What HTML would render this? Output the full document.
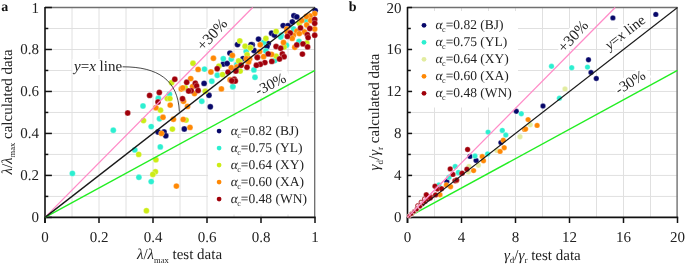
<!DOCTYPE html><html><head><meta charset="utf-8"><style>
html,body{margin:0;padding:0;background:#fff;}
body{width:685px;height:264px;overflow:hidden;}
svg{display:block;font-family:"Liberation Serif", serif;text-rendering:geometricPrecision;will-change:transform;}
</style></head><body>
<svg width="685" height="264" viewBox="0 0 685 264">
<line x1="72.00" y1="7.50" x2="72.00" y2="217.40" stroke="#e0e0e0" stroke-width="1.0"/>
<line x1="99.00" y1="7.50" x2="99.00" y2="217.40" stroke="#e0e0e0" stroke-width="1.0"/>
<line x1="126.00" y1="7.50" x2="126.00" y2="217.40" stroke="#e0e0e0" stroke-width="1.0"/>
<line x1="153.00" y1="7.50" x2="153.00" y2="217.40" stroke="#e0e0e0" stroke-width="1.0"/>
<line x1="180.00" y1="7.50" x2="180.00" y2="217.40" stroke="#e0e0e0" stroke-width="1.0"/>
<line x1="207.00" y1="7.50" x2="207.00" y2="217.40" stroke="#e0e0e0" stroke-width="1.0"/>
<line x1="234.00" y1="7.50" x2="234.00" y2="217.40" stroke="#e0e0e0" stroke-width="1.0"/>
<line x1="261.00" y1="7.50" x2="261.00" y2="217.40" stroke="#e0e0e0" stroke-width="1.0"/>
<line x1="288.00" y1="7.50" x2="288.00" y2="217.40" stroke="#e0e0e0" stroke-width="1.0"/>
<line x1="45.00" y1="196.41" x2="315.00" y2="196.41" stroke="#e0e0e0" stroke-width="1.0"/>
<line x1="45.00" y1="175.42" x2="315.00" y2="175.42" stroke="#e0e0e0" stroke-width="1.0"/>
<line x1="45.00" y1="154.43" x2="315.00" y2="154.43" stroke="#e0e0e0" stroke-width="1.0"/>
<line x1="45.00" y1="133.44" x2="315.00" y2="133.44" stroke="#e0e0e0" stroke-width="1.0"/>
<line x1="45.00" y1="112.45" x2="315.00" y2="112.45" stroke="#e0e0e0" stroke-width="1.0"/>
<line x1="45.00" y1="91.46" x2="315.00" y2="91.46" stroke="#e0e0e0" stroke-width="1.0"/>
<line x1="45.00" y1="70.47" x2="315.00" y2="70.47" stroke="#e0e0e0" stroke-width="1.0"/>
<line x1="45.00" y1="49.48" x2="315.00" y2="49.48" stroke="#e0e0e0" stroke-width="1.0"/>
<line x1="45.00" y1="28.49" x2="315.00" y2="28.49" stroke="#e0e0e0" stroke-width="1.0"/>
<rect x="208" y="116.5" width="106" height="98" fill="#fff"/>
<line x1="45.00" y1="7.50" x2="315.00" y2="7.50" stroke="#707070" stroke-width="1.3"/>
<line x1="314.70" y1="7.50" x2="314.70" y2="217.40" stroke="#6a6a6a" stroke-width="1.3"/>
<line x1="45.00" y1="6.90" x2="45.00" y2="223.00" stroke="#111" stroke-width="1.6"/>
<line x1="44.20" y1="217.40" x2="315.70" y2="217.40" stroke="#111" stroke-width="1.7"/>
<line x1="45.00" y1="217.40" x2="45.00" y2="223.00" stroke="#111" stroke-width="1.5"/>
<text x="45.00" y="242.3" font-size="15" text-anchor="middle" fill="#222">0</text>
<line x1="99.00" y1="217.40" x2="99.00" y2="223.00" stroke="#111" stroke-width="1.5"/>
<text x="99.00" y="242.3" font-size="15" text-anchor="middle" fill="#222">0.2</text>
<line x1="153.00" y1="217.40" x2="153.00" y2="223.00" stroke="#111" stroke-width="1.5"/>
<text x="153.00" y="242.3" font-size="15" text-anchor="middle" fill="#222">0.4</text>
<line x1="207.00" y1="217.40" x2="207.00" y2="223.00" stroke="#111" stroke-width="1.5"/>
<text x="207.00" y="242.3" font-size="15" text-anchor="middle" fill="#222">0.6</text>
<line x1="261.00" y1="217.40" x2="261.00" y2="223.00" stroke="#111" stroke-width="1.5"/>
<text x="261.00" y="242.3" font-size="15" text-anchor="middle" fill="#222">0.8</text>
<line x1="315.00" y1="217.40" x2="315.00" y2="223.00" stroke="#111" stroke-width="1.5"/>
<text x="315.00" y="242.3" font-size="15" text-anchor="middle" fill="#222">1</text>
<line x1="45.00" y1="217.40" x2="51.90" y2="217.40" stroke="#111" stroke-width="1.5"/>
<text x="39.00" y="222.40" font-size="15" text-anchor="end" fill="#222">0</text>
<line x1="45.00" y1="175.42" x2="51.90" y2="175.42" stroke="#111" stroke-width="1.5"/>
<text x="39.00" y="180.42" font-size="15" text-anchor="end" fill="#222">0.2</text>
<line x1="45.00" y1="133.44" x2="51.90" y2="133.44" stroke="#111" stroke-width="1.5"/>
<text x="39.00" y="138.44" font-size="15" text-anchor="end" fill="#222">0.4</text>
<line x1="45.00" y1="91.46" x2="51.90" y2="91.46" stroke="#111" stroke-width="1.5"/>
<text x="39.00" y="96.46" font-size="15" text-anchor="end" fill="#222">0.6</text>
<line x1="45.00" y1="49.48" x2="51.90" y2="49.48" stroke="#111" stroke-width="1.5"/>
<text x="39.00" y="54.48" font-size="15" text-anchor="end" fill="#222">0.8</text>
<line x1="45.00" y1="7.50" x2="51.90" y2="7.50" stroke="#111" stroke-width="1.5"/>
<text x="39.00" y="12.50" font-size="15" text-anchor="end" fill="#222">1</text>
<line x1="45.00" y1="196.41" x2="48.30" y2="196.41" stroke="#111" stroke-width="1.5"/>
<line x1="45.00" y1="154.43" x2="48.30" y2="154.43" stroke="#111" stroke-width="1.5"/>
<line x1="45.00" y1="112.45" x2="48.30" y2="112.45" stroke="#111" stroke-width="1.5"/>
<line x1="45.00" y1="70.47" x2="48.30" y2="70.47" stroke="#111" stroke-width="1.5"/>
<line x1="45.00" y1="28.49" x2="48.30" y2="28.49" stroke="#111" stroke-width="1.5"/>
<circle cx="293.9" cy="15.8" r="2.95" fill="#08086a" stroke="#fff" stroke-width="0.4" stroke-opacity="0.7"/>
<circle cx="296.8" cy="16.9" r="2.95" fill="#08086a" stroke="#fff" stroke-width="0.4" stroke-opacity="0.7"/>
<circle cx="315.2" cy="10.6" r="2.95" fill="#08086a" stroke="#fff" stroke-width="0.4" stroke-opacity="0.7"/>
<circle cx="292.3" cy="21.9" r="2.95" fill="#08086a" stroke="#fff" stroke-width="0.4" stroke-opacity="0.7"/>
<circle cx="283.2" cy="25.6" r="2.95" fill="#08086a" stroke="#fff" stroke-width="0.4" stroke-opacity="0.7"/>
<circle cx="288.0" cy="25.6" r="2.95" fill="#08086a" stroke="#fff" stroke-width="0.4" stroke-opacity="0.7"/>
<circle cx="271.6" cy="33.2" r="2.95" fill="#08086a" stroke="#fff" stroke-width="0.4" stroke-opacity="0.7"/>
<circle cx="274.4" cy="35.1" r="2.95" fill="#08086a" stroke="#fff" stroke-width="0.4" stroke-opacity="0.7"/>
<circle cx="258.5" cy="39.1" r="2.95" fill="#08086a" stroke="#fff" stroke-width="0.4" stroke-opacity="0.7"/>
<circle cx="268.2" cy="43.6" r="2.95" fill="#08086a" stroke="#fff" stroke-width="0.4" stroke-opacity="0.7"/>
<circle cx="267.0" cy="46.5" r="2.95" fill="#08086a" stroke="#fff" stroke-width="0.4" stroke-opacity="0.7"/>
<circle cx="252.3" cy="44.8" r="2.95" fill="#08086a" stroke="#fff" stroke-width="0.4" stroke-opacity="0.7"/>
<circle cx="254.0" cy="50.5" r="2.95" fill="#08086a" stroke="#fff" stroke-width="0.4" stroke-opacity="0.7"/>
<circle cx="237.5" cy="44.6" r="2.95" fill="#08086a" stroke="#fff" stroke-width="0.4" stroke-opacity="0.7"/>
<circle cx="251.1" cy="44.6" r="2.95" fill="#08086a" stroke="#fff" stroke-width="0.4" stroke-opacity="0.7"/>
<circle cx="229.9" cy="53.1" r="2.95" fill="#08086a" stroke="#fff" stroke-width="0.4" stroke-opacity="0.7"/>
<circle cx="243.0" cy="58.6" r="2.95" fill="#08086a" stroke="#fff" stroke-width="0.4" stroke-opacity="0.7"/>
<circle cx="223.4" cy="64.0" r="2.95" fill="#08086a" stroke="#fff" stroke-width="0.4" stroke-opacity="0.7"/>
<circle cx="227.1" cy="63.5" r="2.95" fill="#08086a" stroke="#fff" stroke-width="0.4" stroke-opacity="0.7"/>
<circle cx="204.1" cy="83.4" r="2.95" fill="#08086a" stroke="#fff" stroke-width="0.4" stroke-opacity="0.7"/>
<circle cx="209.0" cy="95.3" r="2.95" fill="#08086a" stroke="#fff" stroke-width="0.4" stroke-opacity="0.7"/>
<circle cx="210.3" cy="106.8" r="2.95" fill="#08086a" stroke="#fff" stroke-width="0.4" stroke-opacity="0.7"/>
<circle cx="184.3" cy="129.0" r="2.95" fill="#08086a" stroke="#fff" stroke-width="0.4" stroke-opacity="0.7"/>
<circle cx="158.1" cy="132.0" r="2.95" fill="#08086a" stroke="#fff" stroke-width="0.4" stroke-opacity="0.7"/>
<circle cx="164.1" cy="132.0" r="2.95" fill="#08086a" stroke="#fff" stroke-width="0.4" stroke-opacity="0.7"/>
<circle cx="165.8" cy="135.8" r="2.95" fill="#08086a" stroke="#fff" stroke-width="0.4" stroke-opacity="0.7"/>
<circle cx="305.9" cy="20.5" r="2.95" fill="#2cefd0" stroke="#fff" stroke-width="0.4" stroke-opacity="0.7"/>
<circle cx="293.6" cy="29.0" r="2.95" fill="#2cefd0" stroke="#fff" stroke-width="0.4" stroke-opacity="0.7"/>
<circle cx="281.1" cy="35.3" r="2.95" fill="#2cefd0" stroke="#fff" stroke-width="0.4" stroke-opacity="0.7"/>
<circle cx="280.7" cy="37.0" r="2.95" fill="#2cefd0" stroke="#fff" stroke-width="0.4" stroke-opacity="0.7"/>
<circle cx="263.6" cy="42.5" r="2.95" fill="#2cefd0" stroke="#fff" stroke-width="0.4" stroke-opacity="0.7"/>
<circle cx="265.9" cy="51.0" r="2.95" fill="#2cefd0" stroke="#fff" stroke-width="0.4" stroke-opacity="0.7"/>
<circle cx="286.4" cy="45.3" r="2.95" fill="#2cefd0" stroke="#fff" stroke-width="0.4" stroke-opacity="0.7"/>
<circle cx="299.0" cy="41.5" r="2.95" fill="#2cefd0" stroke="#fff" stroke-width="0.4" stroke-opacity="0.7"/>
<circle cx="253.9" cy="69.9" r="2.95" fill="#2cefd0" stroke="#fff" stroke-width="0.4" stroke-opacity="0.7"/>
<circle cx="255.0" cy="77.3" r="2.95" fill="#2cefd0" stroke="#fff" stroke-width="0.4" stroke-opacity="0.7"/>
<circle cx="232.7" cy="86.8" r="2.95" fill="#2cefd0" stroke="#fff" stroke-width="0.4" stroke-opacity="0.7"/>
<circle cx="274.7" cy="60.6" r="2.95" fill="#2cefd0" stroke="#fff" stroke-width="0.4" stroke-opacity="0.7"/>
<circle cx="246.2" cy="51.5" r="2.95" fill="#2cefd0" stroke="#fff" stroke-width="0.4" stroke-opacity="0.7"/>
<circle cx="223.3" cy="58.7" r="2.95" fill="#2cefd0" stroke="#fff" stroke-width="0.4" stroke-opacity="0.7"/>
<circle cx="231.2" cy="59.0" r="2.95" fill="#2cefd0" stroke="#fff" stroke-width="0.4" stroke-opacity="0.7"/>
<circle cx="204.5" cy="69.1" r="2.95" fill="#2cefd0" stroke="#fff" stroke-width="0.4" stroke-opacity="0.7"/>
<circle cx="217.3" cy="75.3" r="2.95" fill="#2cefd0" stroke="#fff" stroke-width="0.4" stroke-opacity="0.7"/>
<circle cx="236.8" cy="64.7" r="2.95" fill="#2cefd0" stroke="#fff" stroke-width="0.4" stroke-opacity="0.7"/>
<circle cx="211.8" cy="81.2" r="2.95" fill="#2cefd0" stroke="#fff" stroke-width="0.4" stroke-opacity="0.7"/>
<circle cx="232.9" cy="86.6" r="2.95" fill="#2cefd0" stroke="#fff" stroke-width="0.4" stroke-opacity="0.7"/>
<circle cx="169.4" cy="94.3" r="2.95" fill="#2cefd0" stroke="#fff" stroke-width="0.4" stroke-opacity="0.7"/>
<circle cx="201.8" cy="101.3" r="2.95" fill="#2cefd0" stroke="#fff" stroke-width="0.4" stroke-opacity="0.7"/>
<circle cx="143.0" cy="106.0" r="2.95" fill="#2cefd0" stroke="#fff" stroke-width="0.4" stroke-opacity="0.7"/>
<circle cx="151.2" cy="126.6" r="2.95" fill="#2cefd0" stroke="#fff" stroke-width="0.4" stroke-opacity="0.7"/>
<circle cx="113.3" cy="130.2" r="2.95" fill="#2cefd0" stroke="#fff" stroke-width="0.4" stroke-opacity="0.7"/>
<circle cx="158.3" cy="98.3" r="2.95" fill="#2cefd0" stroke="#fff" stroke-width="0.4" stroke-opacity="0.7"/>
<circle cx="159.5" cy="118.7" r="2.95" fill="#2cefd0" stroke="#fff" stroke-width="0.4" stroke-opacity="0.7"/>
<circle cx="160.3" cy="146.9" r="2.95" fill="#2cefd0" stroke="#fff" stroke-width="0.4" stroke-opacity="0.7"/>
<circle cx="134.8" cy="149.9" r="2.95" fill="#2cefd0" stroke="#fff" stroke-width="0.4" stroke-opacity="0.7"/>
<circle cx="138.9" cy="177.3" r="2.95" fill="#2cefd0" stroke="#fff" stroke-width="0.4" stroke-opacity="0.7"/>
<circle cx="151.2" cy="181.6" r="2.95" fill="#2cefd0" stroke="#fff" stroke-width="0.4" stroke-opacity="0.7"/>
<circle cx="72.4" cy="173.4" r="2.95" fill="#2cefd0" stroke="#fff" stroke-width="0.4" stroke-opacity="0.7"/>
<circle cx="299.3" cy="23.3" r="2.95" fill="#ccec16" stroke="#fff" stroke-width="0.4" stroke-opacity="0.7"/>
<circle cx="276.1" cy="31.4" r="2.95" fill="#ccec16" stroke="#fff" stroke-width="0.4" stroke-opacity="0.7"/>
<circle cx="265.9" cy="38.5" r="2.95" fill="#ccec16" stroke="#fff" stroke-width="0.4" stroke-opacity="0.7"/>
<circle cx="250.6" cy="47.6" r="2.95" fill="#ccec16" stroke="#fff" stroke-width="0.4" stroke-opacity="0.7"/>
<circle cx="284.1" cy="47.0" r="2.95" fill="#ccec16" stroke="#fff" stroke-width="0.4" stroke-opacity="0.7"/>
<circle cx="276.1" cy="56.1" r="2.95" fill="#ccec16" stroke="#fff" stroke-width="0.4" stroke-opacity="0.7"/>
<circle cx="239.9" cy="61.4" r="2.95" fill="#ccec16" stroke="#fff" stroke-width="0.4" stroke-opacity="0.7"/>
<circle cx="240.2" cy="71.1" r="2.95" fill="#ccec16" stroke="#fff" stroke-width="0.4" stroke-opacity="0.7"/>
<circle cx="239.8" cy="40.9" r="2.95" fill="#ccec16" stroke="#fff" stroke-width="0.4" stroke-opacity="0.7"/>
<circle cx="245.1" cy="46.2" r="2.95" fill="#ccec16" stroke="#fff" stroke-width="0.4" stroke-opacity="0.7"/>
<circle cx="250.1" cy="47.8" r="2.95" fill="#ccec16" stroke="#fff" stroke-width="0.4" stroke-opacity="0.7"/>
<circle cx="247.1" cy="54.8" r="2.95" fill="#ccec16" stroke="#fff" stroke-width="0.4" stroke-opacity="0.7"/>
<circle cx="218.9" cy="66.1" r="2.95" fill="#ccec16" stroke="#fff" stroke-width="0.4" stroke-opacity="0.7"/>
<circle cx="222.5" cy="74.6" r="2.95" fill="#ccec16" stroke="#fff" stroke-width="0.4" stroke-opacity="0.7"/>
<circle cx="238.6" cy="61.0" r="2.95" fill="#ccec16" stroke="#fff" stroke-width="0.4" stroke-opacity="0.7"/>
<circle cx="171.6" cy="82.8" r="2.95" fill="#ccec16" stroke="#fff" stroke-width="0.4" stroke-opacity="0.7"/>
<circle cx="185.2" cy="87.7" r="2.95" fill="#ccec16" stroke="#fff" stroke-width="0.4" stroke-opacity="0.7"/>
<circle cx="205.3" cy="91.3" r="2.95" fill="#ccec16" stroke="#fff" stroke-width="0.4" stroke-opacity="0.7"/>
<circle cx="143.5" cy="120.6" r="2.95" fill="#ccec16" stroke="#fff" stroke-width="0.4" stroke-opacity="0.7"/>
<circle cx="160.5" cy="110.2" r="2.95" fill="#ccec16" stroke="#fff" stroke-width="0.4" stroke-opacity="0.7"/>
<circle cx="167.3" cy="98.6" r="2.95" fill="#ccec16" stroke="#fff" stroke-width="0.4" stroke-opacity="0.7"/>
<circle cx="169.9" cy="98.6" r="2.95" fill="#ccec16" stroke="#fff" stroke-width="0.4" stroke-opacity="0.7"/>
<circle cx="172.4" cy="129.1" r="2.95" fill="#ccec16" stroke="#fff" stroke-width="0.4" stroke-opacity="0.7"/>
<circle cx="186.1" cy="120.1" r="2.95" fill="#ccec16" stroke="#fff" stroke-width="0.4" stroke-opacity="0.7"/>
<circle cx="138.7" cy="154.4" r="2.95" fill="#ccec16" stroke="#fff" stroke-width="0.4" stroke-opacity="0.7"/>
<circle cx="155.9" cy="159.8" r="2.95" fill="#ccec16" stroke="#fff" stroke-width="0.4" stroke-opacity="0.7"/>
<circle cx="155.4" cy="171.8" r="2.95" fill="#ccec16" stroke="#fff" stroke-width="0.4" stroke-opacity="0.7"/>
<circle cx="152.8" cy="174.4" r="2.95" fill="#ccec16" stroke="#fff" stroke-width="0.4" stroke-opacity="0.7"/>
<circle cx="146.4" cy="210.7" r="2.95" fill="#ccec16" stroke="#fff" stroke-width="0.4" stroke-opacity="0.7"/>
<circle cx="193.0" cy="63.3" r="2.95" fill="#ccec16" stroke="#fff" stroke-width="0.4" stroke-opacity="0.7"/>
<circle cx="306.8" cy="43.0" r="2.95" fill="#ccec16" stroke="#fff" stroke-width="0.4" stroke-opacity="0.7"/>
<circle cx="314.7" cy="13.6" r="2.95" fill="#ff8804" stroke="#fff" stroke-width="0.4" stroke-opacity="0.7"/>
<circle cx="310.1" cy="16.0" r="2.95" fill="#ff8804" stroke="#fff" stroke-width="0.4" stroke-opacity="0.7"/>
<circle cx="306.4" cy="16.5" r="2.95" fill="#ff8804" stroke="#fff" stroke-width="0.4" stroke-opacity="0.7"/>
<circle cx="301.6" cy="20.5" r="2.95" fill="#ff8804" stroke="#fff" stroke-width="0.4" stroke-opacity="0.7"/>
<circle cx="310.7" cy="20.5" r="2.95" fill="#ff8804" stroke="#fff" stroke-width="0.4" stroke-opacity="0.7"/>
<circle cx="306.7" cy="25.0" r="2.95" fill="#ff8804" stroke="#fff" stroke-width="0.4" stroke-opacity="0.7"/>
<circle cx="314.7" cy="29.0" r="2.95" fill="#ff8804" stroke="#fff" stroke-width="0.4" stroke-opacity="0.7"/>
<circle cx="286.8" cy="29.0" r="2.95" fill="#ff8804" stroke="#fff" stroke-width="0.4" stroke-opacity="0.7"/>
<circle cx="296.8" cy="31.3" r="2.95" fill="#ff8804" stroke="#fff" stroke-width="0.4" stroke-opacity="0.7"/>
<circle cx="304.4" cy="31.9" r="2.95" fill="#ff8804" stroke="#fff" stroke-width="0.4" stroke-opacity="0.7"/>
<circle cx="299.3" cy="33.6" r="2.95" fill="#ff8804" stroke="#fff" stroke-width="0.4" stroke-opacity="0.7"/>
<circle cx="293.4" cy="35.3" r="2.95" fill="#ff8804" stroke="#fff" stroke-width="0.4" stroke-opacity="0.7"/>
<circle cx="287.3" cy="32.3" r="2.95" fill="#ff8804" stroke="#fff" stroke-width="0.4" stroke-opacity="0.7"/>
<circle cx="260.2" cy="44.8" r="2.95" fill="#ff8804" stroke="#fff" stroke-width="0.4" stroke-opacity="0.7"/>
<circle cx="259.7" cy="51.6" r="2.95" fill="#ff8804" stroke="#fff" stroke-width="0.4" stroke-opacity="0.7"/>
<circle cx="283.5" cy="42.5" r="2.95" fill="#ff8804" stroke="#fff" stroke-width="0.4" stroke-opacity="0.7"/>
<circle cx="271.6" cy="54.4" r="2.95" fill="#ff8804" stroke="#fff" stroke-width="0.4" stroke-opacity="0.7"/>
<circle cx="263.6" cy="56.7" r="2.95" fill="#ff8804" stroke="#fff" stroke-width="0.4" stroke-opacity="0.7"/>
<circle cx="292.2" cy="38.4" r="2.95" fill="#ff8804" stroke="#fff" stroke-width="0.4" stroke-opacity="0.7"/>
<circle cx="294.8" cy="47.3" r="2.95" fill="#ff8804" stroke="#fff" stroke-width="0.4" stroke-opacity="0.7"/>
<circle cx="249.6" cy="58.9" r="2.95" fill="#ff8804" stroke="#fff" stroke-width="0.4" stroke-opacity="0.7"/>
<circle cx="247.9" cy="61.4" r="2.95" fill="#ff8804" stroke="#fff" stroke-width="0.4" stroke-opacity="0.7"/>
<circle cx="232.4" cy="55.4" r="2.95" fill="#ff8804" stroke="#fff" stroke-width="0.4" stroke-opacity="0.7"/>
<circle cx="213.4" cy="58.2" r="2.95" fill="#ff8804" stroke="#fff" stroke-width="0.4" stroke-opacity="0.7"/>
<circle cx="246.4" cy="58.8" r="2.95" fill="#ff8804" stroke="#fff" stroke-width="0.4" stroke-opacity="0.7"/>
<circle cx="248.6" cy="62.0" r="2.95" fill="#ff8804" stroke="#fff" stroke-width="0.4" stroke-opacity="0.7"/>
<circle cx="198.1" cy="69.4" r="2.95" fill="#ff8804" stroke="#fff" stroke-width="0.4" stroke-opacity="0.7"/>
<circle cx="210.9" cy="72.0" r="2.95" fill="#ff8804" stroke="#fff" stroke-width="0.4" stroke-opacity="0.7"/>
<circle cx="231.3" cy="67.8" r="2.95" fill="#ff8804" stroke="#fff" stroke-width="0.4" stroke-opacity="0.7"/>
<circle cx="236.9" cy="67.0" r="2.95" fill="#ff8804" stroke="#fff" stroke-width="0.4" stroke-opacity="0.7"/>
<circle cx="190.7" cy="78.6" r="2.95" fill="#ff8804" stroke="#fff" stroke-width="0.4" stroke-opacity="0.7"/>
<circle cx="192.6" cy="86.6" r="2.95" fill="#ff8804" stroke="#fff" stroke-width="0.4" stroke-opacity="0.7"/>
<circle cx="181.3" cy="89.0" r="2.95" fill="#ff8804" stroke="#fff" stroke-width="0.4" stroke-opacity="0.7"/>
<circle cx="182.7" cy="87.9" r="2.95" fill="#ff8804" stroke="#fff" stroke-width="0.4" stroke-opacity="0.7"/>
<circle cx="221.4" cy="88.9" r="2.95" fill="#ff8804" stroke="#fff" stroke-width="0.4" stroke-opacity="0.7"/>
<circle cx="230.1" cy="79.8" r="2.95" fill="#ff8804" stroke="#fff" stroke-width="0.4" stroke-opacity="0.7"/>
<circle cx="194.5" cy="93.6" r="2.95" fill="#ff8804" stroke="#fff" stroke-width="0.4" stroke-opacity="0.7"/>
<circle cx="183.5" cy="101.2" r="2.95" fill="#ff8804" stroke="#fff" stroke-width="0.4" stroke-opacity="0.7"/>
<circle cx="187.5" cy="106.4" r="2.95" fill="#ff8804" stroke="#fff" stroke-width="0.4" stroke-opacity="0.7"/>
<circle cx="155.9" cy="107.7" r="2.95" fill="#ff8804" stroke="#fff" stroke-width="0.4" stroke-opacity="0.7"/>
<circle cx="163.0" cy="117.3" r="2.95" fill="#ff8804" stroke="#fff" stroke-width="0.4" stroke-opacity="0.7"/>
<circle cx="170.2" cy="105.1" r="2.95" fill="#ff8804" stroke="#fff" stroke-width="0.4" stroke-opacity="0.7"/>
<circle cx="173.4" cy="119.2" r="2.95" fill="#ff8804" stroke="#fff" stroke-width="0.4" stroke-opacity="0.7"/>
<circle cx="183.2" cy="119.4" r="2.95" fill="#ff8804" stroke="#fff" stroke-width="0.4" stroke-opacity="0.7"/>
<circle cx="190.0" cy="127.4" r="2.95" fill="#ff8804" stroke="#fff" stroke-width="0.4" stroke-opacity="0.7"/>
<circle cx="161.5" cy="133.4" r="2.95" fill="#ff8804" stroke="#fff" stroke-width="0.4" stroke-opacity="0.7"/>
<circle cx="176.4" cy="186.1" r="2.95" fill="#ff8804" stroke="#fff" stroke-width="0.4" stroke-opacity="0.7"/>
<circle cx="314.7" cy="19.4" r="2.95" fill="#a0000a" stroke="#fff" stroke-width="0.4" stroke-opacity="0.7"/>
<circle cx="314.7" cy="23.3" r="2.95" fill="#a0000a" stroke="#fff" stroke-width="0.4" stroke-opacity="0.7"/>
<circle cx="300.5" cy="27.9" r="2.95" fill="#a0000a" stroke="#fff" stroke-width="0.4" stroke-opacity="0.7"/>
<circle cx="309.8" cy="28.5" r="2.95" fill="#a0000a" stroke="#fff" stroke-width="0.4" stroke-opacity="0.7"/>
<circle cx="290.2" cy="33.0" r="2.95" fill="#a0000a" stroke="#fff" stroke-width="0.4" stroke-opacity="0.7"/>
<circle cx="307.3" cy="34.7" r="2.95" fill="#a0000a" stroke="#fff" stroke-width="0.4" stroke-opacity="0.7"/>
<circle cx="314.7" cy="35.3" r="2.95" fill="#a0000a" stroke="#fff" stroke-width="0.4" stroke-opacity="0.7"/>
<circle cx="287.4" cy="36.4" r="2.95" fill="#a0000a" stroke="#fff" stroke-width="0.4" stroke-opacity="0.7"/>
<circle cx="276.1" cy="46.5" r="2.95" fill="#a0000a" stroke="#fff" stroke-width="0.4" stroke-opacity="0.7"/>
<circle cx="280.7" cy="48.2" r="2.95" fill="#a0000a" stroke="#fff" stroke-width="0.4" stroke-opacity="0.7"/>
<circle cx="268.2" cy="53.9" r="2.95" fill="#a0000a" stroke="#fff" stroke-width="0.4" stroke-opacity="0.7"/>
<circle cx="257.4" cy="57.3" r="2.95" fill="#a0000a" stroke="#fff" stroke-width="0.4" stroke-opacity="0.7"/>
<circle cx="282.4" cy="53.9" r="2.95" fill="#a0000a" stroke="#fff" stroke-width="0.4" stroke-opacity="0.7"/>
<circle cx="284.1" cy="56.7" r="2.95" fill="#a0000a" stroke="#fff" stroke-width="0.4" stroke-opacity="0.7"/>
<circle cx="279.5" cy="59.0" r="2.95" fill="#a0000a" stroke="#fff" stroke-width="0.4" stroke-opacity="0.7"/>
<circle cx="296.8" cy="44.9" r="2.95" fill="#a0000a" stroke="#fff" stroke-width="0.4" stroke-opacity="0.7"/>
<circle cx="303.0" cy="43.9" r="2.95" fill="#a0000a" stroke="#fff" stroke-width="0.4" stroke-opacity="0.7"/>
<circle cx="307.6" cy="46.9" r="2.95" fill="#a0000a" stroke="#fff" stroke-width="0.4" stroke-opacity="0.7"/>
<circle cx="308.1" cy="37.6" r="2.95" fill="#a0000a" stroke="#fff" stroke-width="0.4" stroke-opacity="0.7"/>
<circle cx="302.4" cy="54.1" r="2.95" fill="#a0000a" stroke="#fff" stroke-width="0.4" stroke-opacity="0.7"/>
<circle cx="271.8" cy="61.4" r="2.95" fill="#a0000a" stroke="#fff" stroke-width="0.4" stroke-opacity="0.7"/>
<circle cx="264.9" cy="62.6" r="2.95" fill="#a0000a" stroke="#fff" stroke-width="0.4" stroke-opacity="0.7"/>
<circle cx="260.3" cy="64.3" r="2.95" fill="#a0000a" stroke="#fff" stroke-width="0.4" stroke-opacity="0.7"/>
<circle cx="256.4" cy="65.3" r="2.95" fill="#a0000a" stroke="#fff" stroke-width="0.4" stroke-opacity="0.7"/>
<circle cx="247.0" cy="67.2" r="2.95" fill="#a0000a" stroke="#fff" stroke-width="0.4" stroke-opacity="0.7"/>
<circle cx="241.1" cy="65.3" r="2.95" fill="#a0000a" stroke="#fff" stroke-width="0.4" stroke-opacity="0.7"/>
<circle cx="236.0" cy="70.8" r="2.95" fill="#a0000a" stroke="#fff" stroke-width="0.4" stroke-opacity="0.7"/>
<circle cx="234.3" cy="79.3" r="2.95" fill="#a0000a" stroke="#fff" stroke-width="0.4" stroke-opacity="0.7"/>
<circle cx="232.8" cy="81.2" r="2.95" fill="#a0000a" stroke="#fff" stroke-width="0.4" stroke-opacity="0.7"/>
<circle cx="235.3" cy="81.0" r="2.95" fill="#a0000a" stroke="#fff" stroke-width="0.4" stroke-opacity="0.7"/>
<circle cx="257.3" cy="57.5" r="2.95" fill="#a0000a" stroke="#fff" stroke-width="0.4" stroke-opacity="0.7"/>
<circle cx="217.2" cy="68.8" r="2.95" fill="#a0000a" stroke="#fff" stroke-width="0.4" stroke-opacity="0.7"/>
<circle cx="228.0" cy="72.1" r="2.95" fill="#a0000a" stroke="#fff" stroke-width="0.4" stroke-opacity="0.7"/>
<circle cx="235.8" cy="71.0" r="2.95" fill="#a0000a" stroke="#fff" stroke-width="0.4" stroke-opacity="0.7"/>
<circle cx="174.8" cy="79.2" r="2.95" fill="#a0000a" stroke="#fff" stroke-width="0.4" stroke-opacity="0.7"/>
<circle cx="186.7" cy="82.3" r="2.95" fill="#a0000a" stroke="#fff" stroke-width="0.4" stroke-opacity="0.7"/>
<circle cx="195.3" cy="83.2" r="2.95" fill="#a0000a" stroke="#fff" stroke-width="0.4" stroke-opacity="0.7"/>
<circle cx="196.6" cy="85.9" r="2.95" fill="#a0000a" stroke="#fff" stroke-width="0.4" stroke-opacity="0.7"/>
<circle cx="191.2" cy="90.7" r="2.95" fill="#a0000a" stroke="#fff" stroke-width="0.4" stroke-opacity="0.7"/>
<circle cx="198.1" cy="90.5" r="2.95" fill="#a0000a" stroke="#fff" stroke-width="0.4" stroke-opacity="0.7"/>
<circle cx="231.8" cy="80.7" r="2.95" fill="#a0000a" stroke="#fff" stroke-width="0.4" stroke-opacity="0.7"/>
<circle cx="159.3" cy="92.5" r="2.95" fill="#a0000a" stroke="#fff" stroke-width="0.4" stroke-opacity="0.7"/>
<circle cx="182.5" cy="98.8" r="2.95" fill="#a0000a" stroke="#fff" stroke-width="0.4" stroke-opacity="0.7"/>
<circle cx="127.7" cy="113.0" r="2.95" fill="#a0000a" stroke="#fff" stroke-width="0.4" stroke-opacity="0.7"/>
<circle cx="149.6" cy="95.4" r="2.95" fill="#a0000a" stroke="#fff" stroke-width="0.4" stroke-opacity="0.7"/>
<circle cx="158.0" cy="102.0" r="2.95" fill="#a0000a" stroke="#fff" stroke-width="0.4" stroke-opacity="0.7"/>
<circle cx="188.6" cy="91.0" r="2.95" fill="#a0000a" stroke="#fff" stroke-width="0.4" stroke-opacity="0.7"/>
<line x1="45.00" y1="217.40" x2="252.69" y2="7.50" stroke="#ff8cc8" stroke-width="1.3"/>
<line x1="45.00" y1="217.40" x2="315.00" y2="70.47" stroke="#22ee22" stroke-width="1.4"/>
<line x1="45.00" y1="217.40" x2="315.00" y2="7.50" stroke="#1a1a1a" stroke-width="1.35"/>
<rect x="72.5" y="59" width="50" height="16" fill="#fff"/>
<text x="74.0" y="71.2" font-size="15" fill="#222"><tspan font-style="italic">y</tspan>=<tspan font-style="italic">x</tspan> line</text>
<path d="M122.6,66.8 C158,66.8 178,80 179.4,111.7" fill="none" stroke="#333" stroke-width="0.9"/>
<g transform="translate(203.2,51.6) rotate(-47.5)"><rect x="-1" y="-13" width="40" height="15" fill="#fff"/><text x="0" y="0" font-size="15.5" fill="#222">+30%</text></g>
<g transform="translate(258.3,96.0) rotate(-27)"><rect x="-1" y="-12" width="38" height="14" fill="#fff"/><text x="0" y="0" font-size="15" fill="#222">-30%</text></g>
<circle cx="219.1" cy="131.1" r="2.4" fill="#08086a"/>
<text x="230.8" y="134.6" font-size="13.5" fill="#222"><tspan font-style="italic">α</tspan><tspan font-size="8" dy="3" dx="-0.6">c</tspan><tspan dy="-3">=</tspan>0.82 (BJ)</text>
<circle cx="219.1" cy="148.1" r="2.4" fill="#2cefd0"/>
<text x="230.8" y="151.6" font-size="13.5" fill="#222"><tspan font-style="italic">α</tspan><tspan font-size="8" dy="3" dx="-0.6">c</tspan><tspan dy="-3">=</tspan>0.75 (YL)</text>
<circle cx="219.1" cy="165.1" r="2.4" fill="#ccec16"/>
<text x="230.8" y="168.6" font-size="13.5" fill="#222"><tspan font-style="italic">α</tspan><tspan font-size="8" dy="3" dx="-0.6">c</tspan><tspan dy="-3">=</tspan>0.64 (XY)</text>
<circle cx="219.1" cy="182.1" r="2.4" fill="#ff8804"/>
<text x="230.8" y="185.6" font-size="13.5" fill="#222"><tspan font-style="italic">α</tspan><tspan font-size="8" dy="3" dx="-0.6">c</tspan><tspan dy="-3">=</tspan>0.60 (XA)</text>
<circle cx="219.1" cy="199.1" r="2.4" fill="#a0000a"/>
<text x="230.8" y="202.6" font-size="13.5" fill="#222"><tspan font-style="italic">α</tspan><tspan font-size="8" dy="3" dx="-0.6">c</tspan><tspan dy="-3">=</tspan>0.48 (WN)</text>
<line x1="434.50" y1="7.50" x2="434.50" y2="217.40" stroke="#e0e0e0" stroke-width="1.0"/>
<line x1="461.50" y1="7.50" x2="461.50" y2="217.40" stroke="#e0e0e0" stroke-width="1.0"/>
<line x1="488.50" y1="7.50" x2="488.50" y2="217.40" stroke="#e0e0e0" stroke-width="1.0"/>
<line x1="515.50" y1="7.50" x2="515.50" y2="217.40" stroke="#e0e0e0" stroke-width="1.0"/>
<line x1="542.50" y1="7.50" x2="542.50" y2="217.40" stroke="#e0e0e0" stroke-width="1.0"/>
<line x1="569.50" y1="7.50" x2="569.50" y2="217.40" stroke="#e0e0e0" stroke-width="1.0"/>
<line x1="596.50" y1="7.50" x2="596.50" y2="217.40" stroke="#e0e0e0" stroke-width="1.0"/>
<line x1="623.50" y1="7.50" x2="623.50" y2="217.40" stroke="#e0e0e0" stroke-width="1.0"/>
<line x1="650.50" y1="7.50" x2="650.50" y2="217.40" stroke="#e0e0e0" stroke-width="1.0"/>
<line x1="407.50" y1="196.41" x2="677.50" y2="196.41" stroke="#e0e0e0" stroke-width="1.0"/>
<line x1="407.50" y1="175.42" x2="677.50" y2="175.42" stroke="#e0e0e0" stroke-width="1.0"/>
<line x1="407.50" y1="154.43" x2="677.50" y2="154.43" stroke="#e0e0e0" stroke-width="1.0"/>
<line x1="407.50" y1="133.44" x2="677.50" y2="133.44" stroke="#e0e0e0" stroke-width="1.0"/>
<line x1="407.50" y1="112.45" x2="677.50" y2="112.45" stroke="#e0e0e0" stroke-width="1.0"/>
<line x1="407.50" y1="91.46" x2="677.50" y2="91.46" stroke="#e0e0e0" stroke-width="1.0"/>
<line x1="407.50" y1="70.47" x2="677.50" y2="70.47" stroke="#e0e0e0" stroke-width="1.0"/>
<line x1="407.50" y1="49.48" x2="677.50" y2="49.48" stroke="#e0e0e0" stroke-width="1.0"/>
<line x1="407.50" y1="28.49" x2="677.50" y2="28.49" stroke="#e0e0e0" stroke-width="1.0"/>
<rect x="409" y="11" width="109" height="96.5" fill="#fff"/>
<line x1="407.50" y1="7.50" x2="677.50" y2="7.50" stroke="#707070" stroke-width="1.3"/>
<line x1="677.10" y1="7.50" x2="677.10" y2="217.40" stroke="#7a7a7a" stroke-width="1.5"/>
<line x1="407.50" y1="6.90" x2="407.50" y2="223.00" stroke="#111" stroke-width="1.6"/>
<line x1="406.70" y1="217.40" x2="678.20" y2="217.40" stroke="#111" stroke-width="1.7"/>
<line x1="407.50" y1="217.40" x2="407.50" y2="223.00" stroke="#111" stroke-width="1.5"/>
<text x="407.50" y="242.3" font-size="15" text-anchor="middle" fill="#222">0</text>
<line x1="461.50" y1="217.40" x2="461.50" y2="223.00" stroke="#111" stroke-width="1.5"/>
<text x="461.50" y="242.3" font-size="15" text-anchor="middle" fill="#222">4</text>
<line x1="515.50" y1="217.40" x2="515.50" y2="223.00" stroke="#111" stroke-width="1.5"/>
<text x="515.50" y="242.3" font-size="15" text-anchor="middle" fill="#222">8</text>
<line x1="569.50" y1="217.40" x2="569.50" y2="223.00" stroke="#111" stroke-width="1.5"/>
<text x="569.50" y="242.3" font-size="15" text-anchor="middle" fill="#222">12</text>
<line x1="623.50" y1="217.40" x2="623.50" y2="223.00" stroke="#111" stroke-width="1.5"/>
<text x="623.50" y="242.3" font-size="15" text-anchor="middle" fill="#222">16</text>
<line x1="677.50" y1="217.40" x2="677.50" y2="223.00" stroke="#111" stroke-width="1.5"/>
<text x="677.50" y="242.3" font-size="15" text-anchor="middle" fill="#222">20</text>
<line x1="407.50" y1="217.40" x2="412.10" y2="217.40" stroke="#111" stroke-width="1.5"/>
<text x="401.50" y="222.40" font-size="15" text-anchor="end" fill="#222">0</text>
<line x1="407.50" y1="175.42" x2="412.10" y2="175.42" stroke="#111" stroke-width="1.5"/>
<text x="401.50" y="180.42" font-size="15" text-anchor="end" fill="#222">4</text>
<line x1="407.50" y1="133.44" x2="412.10" y2="133.44" stroke="#111" stroke-width="1.5"/>
<text x="401.50" y="138.44" font-size="15" text-anchor="end" fill="#222">8</text>
<line x1="407.50" y1="91.46" x2="412.10" y2="91.46" stroke="#111" stroke-width="1.5"/>
<text x="401.50" y="96.46" font-size="15" text-anchor="end" fill="#222">12</text>
<line x1="407.50" y1="49.48" x2="412.10" y2="49.48" stroke="#111" stroke-width="1.5"/>
<text x="401.50" y="54.48" font-size="15" text-anchor="end" fill="#222">16</text>
<line x1="407.50" y1="7.50" x2="412.10" y2="7.50" stroke="#111" stroke-width="1.5"/>
<text x="401.50" y="12.50" font-size="15" text-anchor="end" fill="#222">20</text>
<line x1="407.50" y1="196.41" x2="410.80" y2="196.41" stroke="#111" stroke-width="1.5"/>
<line x1="407.50" y1="154.43" x2="410.80" y2="154.43" stroke="#111" stroke-width="1.5"/>
<line x1="407.50" y1="112.45" x2="410.80" y2="112.45" stroke="#111" stroke-width="1.5"/>
<line x1="407.50" y1="70.47" x2="410.80" y2="70.47" stroke="#111" stroke-width="1.5"/>
<line x1="407.50" y1="28.49" x2="410.80" y2="28.49" stroke="#111" stroke-width="1.5"/>
<circle cx="411.6" cy="213.8" r="2.5" fill="#a0000a" stroke="#fff" stroke-width="0.5" stroke-opacity="0.8"/>
<circle cx="414.2" cy="211.4" r="2.5" fill="#a0000a" stroke="#fff" stroke-width="0.5" stroke-opacity="0.8"/>
<circle cx="416.9" cy="209.0" r="2.5" fill="#a0000a" stroke="#fff" stroke-width="0.5" stroke-opacity="0.8"/>
<circle cx="419.6" cy="206.5" r="2.5" fill="#a0000a" stroke="#fff" stroke-width="0.5" stroke-opacity="0.8"/>
<circle cx="422.4" cy="204.1" r="2.5" fill="#a0000a" stroke="#fff" stroke-width="0.5" stroke-opacity="0.8"/>
<circle cx="425.1" cy="201.7" r="2.5" fill="#a0000a" stroke="#fff" stroke-width="0.5" stroke-opacity="0.8"/>
<circle cx="427.8" cy="199.3" r="2.5" fill="#a0000a" stroke="#fff" stroke-width="0.5" stroke-opacity="0.8"/>
<circle cx="431.1" cy="196.8" r="2.5" fill="#a0000a" stroke="#fff" stroke-width="0.5" stroke-opacity="0.8"/>
<circle cx="417.6" cy="205.6" r="2.0" fill="#f3d0d8" stroke="#a0000a" stroke-width="0.8"/>
<circle cx="421.0" cy="202.1" r="2.0" fill="#f3d0d8" stroke="#a0000a" stroke-width="0.8"/>
<circle cx="424.4" cy="198.8" r="2.0" fill="#f3d0d8" stroke="#a0000a" stroke-width="0.8"/>
<circle cx="446.8" cy="181.4" r="2.7" fill="#08086a" stroke="#fff" stroke-width="0.4" stroke-opacity="0.7"/>
<circle cx="500.9" cy="142.6" r="2.7" fill="#08086a" stroke="#fff" stroke-width="0.4" stroke-opacity="0.7"/>
<circle cx="470.0" cy="156.4" r="2.7" fill="#08086a" stroke="#fff" stroke-width="0.4" stroke-opacity="0.7"/>
<circle cx="476.1" cy="160.4" r="2.7" fill="#08086a" stroke="#fff" stroke-width="0.4" stroke-opacity="0.7"/>
<circle cx="516.3" cy="111.3" r="2.7" fill="#08086a" stroke="#fff" stroke-width="0.4" stroke-opacity="0.7"/>
<circle cx="543.0" cy="106.0" r="2.7" fill="#08086a" stroke="#fff" stroke-width="0.4" stroke-opacity="0.7"/>
<circle cx="588.5" cy="59.8" r="2.7" fill="#08086a" stroke="#fff" stroke-width="0.4" stroke-opacity="0.7"/>
<circle cx="591.0" cy="72.5" r="2.7" fill="#08086a" stroke="#fff" stroke-width="0.4" stroke-opacity="0.7"/>
<circle cx="596.3" cy="78.5" r="2.7" fill="#08086a" stroke="#fff" stroke-width="0.4" stroke-opacity="0.7"/>
<circle cx="612.9" cy="17.9" r="2.7" fill="#08086a" stroke="#fff" stroke-width="0.4" stroke-opacity="0.7"/>
<circle cx="655.8" cy="14.4" r="2.7" fill="#08086a" stroke="#fff" stroke-width="0.4" stroke-opacity="0.7"/>
<circle cx="455.2" cy="166.5" r="2.7" fill="#2cefd0" stroke="#fff" stroke-width="0.4" stroke-opacity="0.7"/>
<circle cx="458.6" cy="172.9" r="2.7" fill="#2cefd0" stroke="#fff" stroke-width="0.4" stroke-opacity="0.7"/>
<circle cx="449.0" cy="177.3" r="2.7" fill="#2cefd0" stroke="#fff" stroke-width="0.4" stroke-opacity="0.7"/>
<circle cx="438.9" cy="184.9" r="2.7" fill="#2cefd0" stroke="#fff" stroke-width="0.4" stroke-opacity="0.7"/>
<circle cx="488.1" cy="132.1" r="2.7" fill="#2cefd0" stroke="#fff" stroke-width="0.4" stroke-opacity="0.7"/>
<circle cx="502.3" cy="130.4" r="2.7" fill="#2cefd0" stroke="#fff" stroke-width="0.4" stroke-opacity="0.7"/>
<circle cx="505.8" cy="135.0" r="2.7" fill="#2cefd0" stroke="#fff" stroke-width="0.4" stroke-opacity="0.7"/>
<circle cx="475.0" cy="156.0" r="2.7" fill="#2cefd0" stroke="#fff" stroke-width="0.4" stroke-opacity="0.7"/>
<circle cx="487.6" cy="153.9" r="2.7" fill="#2cefd0" stroke="#fff" stroke-width="0.4" stroke-opacity="0.7"/>
<circle cx="458.4" cy="172.4" r="2.7" fill="#2cefd0" stroke="#fff" stroke-width="0.4" stroke-opacity="0.7"/>
<circle cx="521.3" cy="113.8" r="2.7" fill="#2cefd0" stroke="#fff" stroke-width="0.4" stroke-opacity="0.7"/>
<circle cx="559.4" cy="98.3" r="2.7" fill="#2cefd0" stroke="#fff" stroke-width="0.4" stroke-opacity="0.7"/>
<circle cx="551.5" cy="66.3" r="2.7" fill="#2cefd0" stroke="#fff" stroke-width="0.4" stroke-opacity="0.7"/>
<circle cx="571.7" cy="67.7" r="2.7" fill="#2cefd0" stroke="#fff" stroke-width="0.4" stroke-opacity="0.7"/>
<circle cx="587.5" cy="67.1" r="2.7" fill="#2cefd0" stroke="#fff" stroke-width="0.4" stroke-opacity="0.7"/>
<circle cx="496.9" cy="150.4" r="2.7" fill="#e2eca0" stroke="#fff" stroke-width="0.4" stroke-opacity="0.7"/>
<circle cx="520.0" cy="136.7" r="2.7" fill="#e2eca0" stroke="#fff" stroke-width="0.4" stroke-opacity="0.7"/>
<circle cx="478.4" cy="165.2" r="2.7" fill="#e2eca0" stroke="#fff" stroke-width="0.4" stroke-opacity="0.7"/>
<circle cx="469.0" cy="166.4" r="2.7" fill="#e2eca0" stroke="#fff" stroke-width="0.4" stroke-opacity="0.7"/>
<circle cx="468.3" cy="172.0" r="2.7" fill="#e2eca0" stroke="#fff" stroke-width="0.4" stroke-opacity="0.7"/>
<circle cx="530.2" cy="124.8" r="2.7" fill="#e2eca0" stroke="#fff" stroke-width="0.4" stroke-opacity="0.7"/>
<circle cx="565.0" cy="88.9" r="2.7" fill="#e2eca0" stroke="#fff" stroke-width="0.4" stroke-opacity="0.7"/>
<circle cx="446.4" cy="184.9" r="2.7" fill="#ff8804" stroke="#fff" stroke-width="0.4" stroke-opacity="0.7"/>
<circle cx="450.6" cy="186.7" r="2.7" fill="#ff8804" stroke="#fff" stroke-width="0.4" stroke-opacity="0.7"/>
<circle cx="456.5" cy="180.8" r="2.7" fill="#ff8804" stroke="#fff" stroke-width="0.4" stroke-opacity="0.7"/>
<circle cx="440.0" cy="194.8" r="2.7" fill="#ff8804" stroke="#fff" stroke-width="0.4" stroke-opacity="0.7"/>
<circle cx="503.3" cy="140.2" r="2.7" fill="#ff8804" stroke="#fff" stroke-width="0.4" stroke-opacity="0.7"/>
<circle cx="504.2" cy="147.7" r="2.7" fill="#ff8804" stroke="#fff" stroke-width="0.4" stroke-opacity="0.7"/>
<circle cx="500.1" cy="151.4" r="2.7" fill="#ff8804" stroke="#fff" stroke-width="0.4" stroke-opacity="0.7"/>
<circle cx="524.6" cy="129.4" r="2.7" fill="#ff8804" stroke="#fff" stroke-width="0.4" stroke-opacity="0.7"/>
<circle cx="482.2" cy="156.5" r="2.7" fill="#ff8804" stroke="#fff" stroke-width="0.4" stroke-opacity="0.7"/>
<circle cx="483.5" cy="160.8" r="2.7" fill="#ff8804" stroke="#fff" stroke-width="0.4" stroke-opacity="0.7"/>
<circle cx="473.6" cy="170.6" r="2.7" fill="#ff8804" stroke="#fff" stroke-width="0.4" stroke-opacity="0.7"/>
<circle cx="528.1" cy="119.6" r="2.7" fill="#ff8804" stroke="#fff" stroke-width="0.4" stroke-opacity="0.7"/>
<circle cx="525.6" cy="129.0" r="2.7" fill="#ff8804" stroke="#fff" stroke-width="0.4" stroke-opacity="0.7"/>
<circle cx="537.1" cy="125.4" r="2.7" fill="#ff8804" stroke="#fff" stroke-width="0.4" stroke-opacity="0.7"/>
<circle cx="450.2" cy="168.9" r="2.7" fill="#a0000a" stroke="#fff" stroke-width="0.4" stroke-opacity="0.7"/>
<circle cx="452.9" cy="174.4" r="2.7" fill="#a0000a" stroke="#fff" stroke-width="0.4" stroke-opacity="0.7"/>
<circle cx="461.8" cy="173.4" r="2.7" fill="#a0000a" stroke="#fff" stroke-width="0.4" stroke-opacity="0.7"/>
<circle cx="455.0" cy="180.7" r="2.7" fill="#a0000a" stroke="#fff" stroke-width="0.4" stroke-opacity="0.7"/>
<circle cx="435.0" cy="186.2" r="2.7" fill="#a0000a" stroke="#fff" stroke-width="0.4" stroke-opacity="0.7"/>
<circle cx="437.4" cy="189.0" r="2.7" fill="#a0000a" stroke="#fff" stroke-width="0.4" stroke-opacity="0.7"/>
<circle cx="441.6" cy="188.8" r="2.7" fill="#a0000a" stroke="#fff" stroke-width="0.4" stroke-opacity="0.7"/>
<circle cx="426.3" cy="194.8" r="2.7" fill="#a0000a" stroke="#fff" stroke-width="0.4" stroke-opacity="0.7"/>
<circle cx="435.6" cy="194.9" r="2.7" fill="#a0000a" stroke="#fff" stroke-width="0.4" stroke-opacity="0.7"/>
<circle cx="430.3" cy="198.1" r="2.7" fill="#a0000a" stroke="#fff" stroke-width="0.4" stroke-opacity="0.7"/>
<circle cx="467.6" cy="149.5" r="2.7" fill="#a0000a" stroke="#fff" stroke-width="0.4" stroke-opacity="0.7"/>
<circle cx="466.9" cy="169.2" r="2.7" fill="#a0000a" stroke="#fff" stroke-width="0.4" stroke-opacity="0.7"/>
<circle cx="462.2" cy="173.2" r="2.7" fill="#a0000a" stroke="#fff" stroke-width="0.4" stroke-opacity="0.7"/>
<circle cx="456.7" cy="180.0" r="2.7" fill="#a0000a" stroke="#fff" stroke-width="0.4" stroke-opacity="0.7"/>
<line x1="407.50" y1="217.40" x2="615.19" y2="7.50" stroke="#ff8cc8" stroke-width="1.3"/>
<line x1="407.50" y1="217.40" x2="677.50" y2="70.47" stroke="#22ee22" stroke-width="1.4"/>
<line x1="407.50" y1="217.40" x2="677.50" y2="7.50" stroke="#1a1a1a" stroke-width="1.15"/>
<circle cx="409.1" cy="216.0" r="2.2" fill="#a0000a" stroke="#f8dde3" stroke-width="0.7" fill-opacity="0.9"/>
<circle cx="411.6" cy="214.1" r="2.2" fill="#a0000a" stroke="#f8dde3" stroke-width="0.7" fill-opacity="0.9"/>
<circle cx="414.2" cy="211.7" r="2.2" fill="#a0000a" stroke="#f8dde3" stroke-width="0.7" fill-opacity="0.9"/>
<circle cx="416.9" cy="209.7" r="2.2" fill="#a0000a" stroke="#f8dde3" stroke-width="0.7" fill-opacity="0.9"/>
<circle cx="420.3" cy="206.6" r="2.2" fill="#a0000a" stroke="#f8dde3" stroke-width="0.7" fill-opacity="0.9"/>
<line x1="407.50" y1="217.40" x2="448.00" y2="176.47" stroke="#ff8cc8" stroke-width="1.3"/>
<g transform="translate(564.2,53.5) rotate(-48)"><rect x="-1" y="-13" width="40" height="15" fill="#fff"/><text x="0" y="0" font-size="15.5" fill="#222">+30%</text></g>
<g transform="translate(609.5,50.2) rotate(-37.5)"><rect x="-1" y="-12" width="50" height="14" fill="#fff"/><text x="0" y="0" font-size="14.5" fill="#222"><tspan font-style="italic">y</tspan>=<tspan font-style="italic">x</tspan> line</text></g>
<g transform="translate(619.0,95.0) rotate(-32)"><rect x="-1" y="-12" width="38" height="14" fill="#fff"/><text x="0" y="0" font-size="15" fill="#222">-30%</text></g>
<circle cx="424.0" cy="25.3" r="2.4" fill="#08086a"/>
<text x="435.6" y="28.8" font-size="13.5" fill="#222"><tspan font-style="italic">α</tspan><tspan font-size="8" dy="3" dx="-0.6">c</tspan><tspan dy="-3">=</tspan>0.82 (BJ)</text>
<circle cx="424.0" cy="42.3" r="2.4" fill="#2cefd0"/>
<text x="435.6" y="45.8" font-size="13.5" fill="#222"><tspan font-style="italic">α</tspan><tspan font-size="8" dy="3" dx="-0.6">c</tspan><tspan dy="-3">=</tspan>0.75 (YL)</text>
<circle cx="424.0" cy="59.3" r="2.4" fill="#e2eca0"/>
<text x="435.6" y="62.8" font-size="13.5" fill="#222"><tspan font-style="italic">α</tspan><tspan font-size="8" dy="3" dx="-0.6">c</tspan><tspan dy="-3">=</tspan>0.64 (XY)</text>
<circle cx="424.0" cy="76.3" r="2.4" fill="#ff8804"/>
<text x="435.6" y="79.8" font-size="13.5" fill="#222"><tspan font-style="italic">α</tspan><tspan font-size="8" dy="3" dx="-0.6">c</tspan><tspan dy="-3">=</tspan>0.60 (XA)</text>
<circle cx="424.0" cy="93.3" r="2.4" fill="#a0000a"/>
<text x="435.6" y="96.8" font-size="13.5" fill="#222"><tspan font-style="italic">α</tspan><tspan font-size="8" dy="3" dx="-0.6">c</tspan><tspan dy="-3">=</tspan>0.48 (WN)</text>
<text x="179.5" y="259" font-size="15" text-anchor="middle" fill="#222"><tspan font-style="italic">λ</tspan>/<tspan font-style="italic">λ</tspan><tspan font-size="8.5" dy="3.5">max</tspan><tspan dy="-3.5"> test data</tspan></text>
<text x="542.3" y="259.7" font-size="15" text-anchor="middle" fill="#222"><tspan font-style="italic">γ</tspan><tspan font-size="9" dy="3.5">d</tspan><tspan dy="-3.5">/</tspan><tspan font-style="italic">γ</tspan><tspan font-size="9" dy="3.5">r</tspan><tspan dy="-3.5"> test data</tspan></text>
<text transform="translate(11.7,112) rotate(-90)" x="0" y="0" font-size="15" text-anchor="middle" fill="#222"><tspan font-style="italic">λ</tspan>/<tspan font-style="italic">λ</tspan><tspan font-size="8.5" dy="3.5">max</tspan><tspan dy="-3.5"> calculated data</tspan></text>
<text transform="translate(379.2,112) rotate(-90)" x="0" y="0" font-size="15" text-anchor="middle" fill="#222"><tspan font-style="italic">γ</tspan><tspan font-size="9" dy="3.5">d</tspan><tspan dy="-3.5">/</tspan><tspan font-style="italic">γ</tspan><tspan font-size="9" dy="3.5">r</tspan><tspan dy="-3.5"> calculated data</tspan></text>
<text x="1.2" y="10.6" font-size="14" font-weight="bold" fill="#111">a</text>
<text x="348.8" y="10.6" font-size="14" font-weight="bold" fill="#111">b</text>
</svg></body></html>
